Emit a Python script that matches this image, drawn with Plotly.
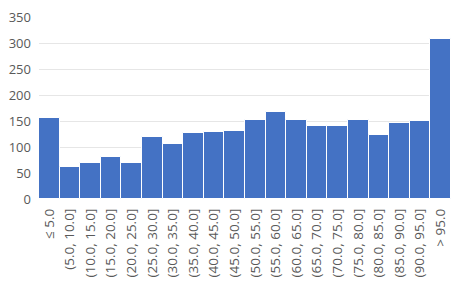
import plotly.graph_objects as go

categories = ["≤ 5.0", "(5.0, 10.0]", "(10.0, 15.0]", "(15.0, 20.0]", "(20.0, 25.0]",
              "(25.0, 30.0]", "(30.0, 35.0]", "(35.0, 40.0]", "(40.0, 45.0]", "(45.0, 50.0]",
              "(50.0, 55.0]", "(55.0, 60.0]", "(60.0, 65.0]", "(65.0, 70.0]", "(70.0, 75.0]",
              "(75.0, 80.0]", "(80.0, 85.0]", "(85.0, 90.0]", "(90.0, 95.0]", "> 95.0"]
counts = [155, 62, 70, 80, 70, 119, 105, 127, 128, 130, 151, 167, 151, 140, 140, 152, 123, 147, 150, 308]
y_ticks = [0, 50, 100, 150, 200, 250, 300, 350]

fig = go.Figure(go.Bar(
    x=categories, y=counts,
    marker=dict(color="#4472C4", line=dict(color="#FFFFFF", width=1)),
))
fig.update_layout(
    width=460, height=288,
    margin=dict(l=39, r=9, t=17, b=89),
    paper_bgcolor="white", plot_bgcolor="white",
    bargap=0, showlegend=False,
    font=dict(family="Open Sans, Segoe UI, sans-serif", size=12, color="#595959"),
)
fig.update_xaxes(tickangle=-90, showgrid=False, showline=False, ticks="",
                 ticklabelstandoff=6,
                 tickfont=dict(size=13.5, color="#595959"))
fig.update_yaxes(range=[0, 350], tickvals=y_ticks, showgrid=True, gridcolor="#E6E6E6",
                 gridwidth=1, zeroline=False, ticks="", ticklabelstandoff=7,
                 tickfont=dict(size=13, color="#595959"))
fig.write_html("out.html")
